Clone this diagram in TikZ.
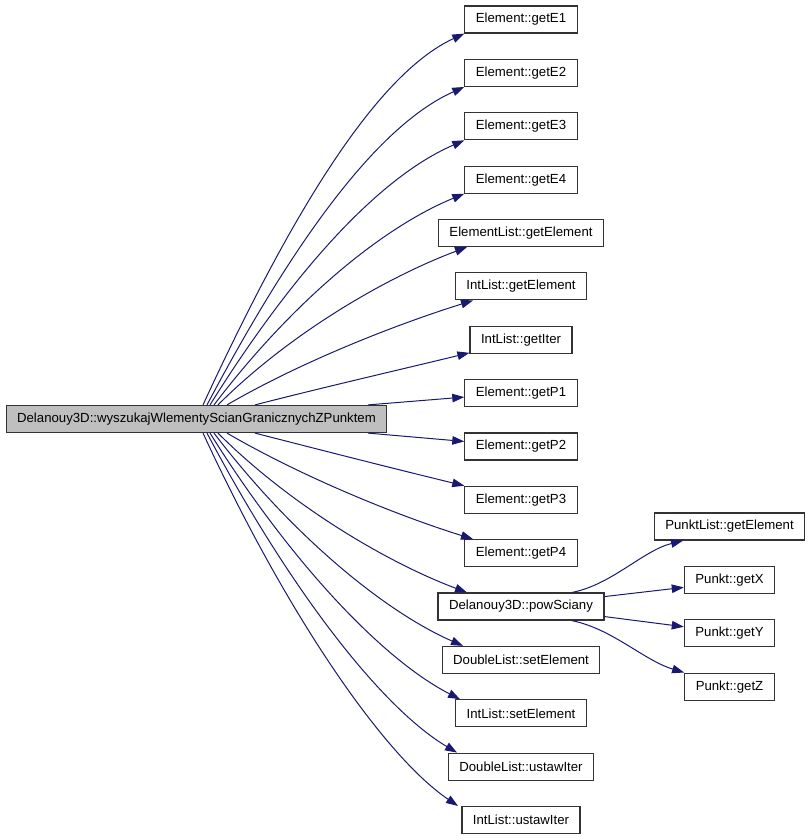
\documentclass[tikz,border=0pt]{standalone}
\usepackage{fontspec}
\setmainfont{Liberation Sans}
\usetikzlibrary{arrows.meta}
\definecolor{edgeblue}{HTML}{191970}
\definecolor{mainfill}{HTML}{BFBFBF}
\tikzset{
  fn/.style={draw=black!80,line width=1.2pt,minimum height=27pt,inner xsep=11pt,inner ysep=0pt,
    font=\fontsize{13.2}{15}\selectfont},
  call/.style={draw=edgeblue,line width=1pt,-{Triangle[length=12pt,width=8.5pt]}}
}
\begin{document}
\begin{tikzpicture}[x=1pt,y=-1pt]
\useasboundingbox (0,0) rectangle (811,840);

\node[fn,fill=mainfill] (main) at (196.5,419) {Delanouy3D::wyszukajWlementyScianGranicznychZPunktem};

\foreach \nm/\txt [count=\k from 0] in {e1/Element::getE1,e2/Element::getE2,e3/Element::getE3,e4/Element::getE4,
  elg/ElementList::getElement,ilg/IntList::getElement,ili/IntList::getIter,p1/Element::getP1,p2/Element::getP2,
  p3/Element::getP3,p4/Element::getP4,pow/Delanouy3D::powSciany,dls/DoubleList::setElement,
  ils/IntList::setElement,dlu/DoubleList::ustawIter,ilu/IntList::ustawIter}
  \node[fn] (\nm) at (521,{19.5+53.37*\k}) {\txt};

\foreach \nm/\txt [count=\k from 0] in {plg/PunktList::getElement,gx/Punkt::getX,gy/Punkt::getY,gz/Punkt::getZ}
  \node[fn] (\nm) at (729.5,{526.5+53.37*\k}) {\txt};

% calls going up
\draw[call] ([xshift=6.5pt]main.north) .. controls +(84,-182) and +(-91,42) .. (e1.south west);
\draw[call] ([xshift=10.5pt]main.north) .. controls +(82,-155) and +(-90,40) .. (e2.south west);
\draw[call] ([xshift=13.5pt]main.north) .. controls +(80,-128) and +(-88,38) .. (e3.south west);
\draw[call] ([xshift=17.5pt]main.north) .. controls +(76,-100) and +(-85,35) .. (e4.south west);
\draw[call] ([xshift=21.5pt]main.north) .. controls +(72,-72) and +(-80,30) .. ([xshift=-54pt]elg.south);
\draw[call] ([xshift=30.5pt]main.north) .. controls +(72,-42) and +(-80,25) .. ([xshift=-48pt]ilg.south);
\draw[call] ([xshift=58.5pt]main.north) .. controls +(70,-18) and +(-70,17) .. ([yshift=1pt]ili.south west);
\draw[call] ([xshift=171.5pt]main.north) -- ([yshift=-4pt]p1.west);

% calls going down
\draw[call] ([xshift=171.5pt]main.south) -- ([yshift=5pt]p2.west);
\draw[call] ([xshift=58.5pt]main.south) .. controls +(70,18) and +(-70,-17) .. (p3.north west);
\draw[call] ([xshift=30.5pt]main.south) .. controls +(72,42) and +(-80,-25) .. ([xshift=-48pt]p4.north);
\draw[call] ([xshift=21.5pt]main.south) .. controls +(72,72) and +(-80,-30) .. ([xshift=-54pt]pow.north);
\draw[call] ([xshift=17.5pt]main.south) .. controls +(76,100) and +(-80,-35) .. ([xshift=-58pt]dls.north);
\draw[call] ([xshift=13.5pt]main.south) .. controls +(80,128) and +(-78,-40) .. ([xshift=-61pt]ils.north);
\draw[call] ([xshift=10.5pt]main.south) .. controls +(82,155) and +(-76,-45) .. ([xshift=-64pt]dlu.north);
\draw[call] ([xshift=6.5pt]main.south) .. controls +(84,182) and +(-74,-50) .. ([xshift=-63pt]ilu.north);

% powSciany
\draw[call] ([xshift=51pt]pow.north) .. controls +(40,-8) and +(-40,10) .. ([xshift=-46.5pt]plg.south);
\draw[call] ([yshift=10pt]pow.east) -- ([yshift=-7.5pt]gx.west);
\draw[call] ([yshift=-10pt]pow.east) -- ([yshift=6.5pt]gy.west);
\draw[call] ([xshift=51pt]pow.south) .. controls +(40,8) and +(-40,-12) .. (gz.north west);
\end{tikzpicture}
\end{document}
